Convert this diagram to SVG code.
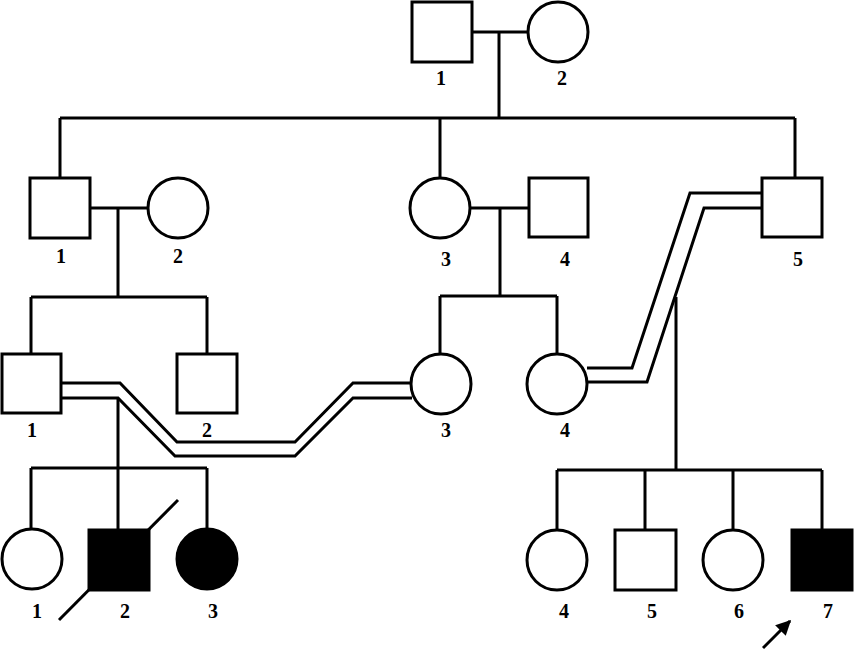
<svg xmlns="http://www.w3.org/2000/svg" width="854" height="650" viewBox="0 0 854 650">
<style>
.s{fill:#fff;stroke:#000;stroke-width:3}
.a{fill:#000;stroke:#000;stroke-width:3}
.l{fill:none;stroke:#000;stroke-width:3;stroke-linejoin:miter}
.t{font-family:"Liberation Serif",serif;font-weight:bold;font-size:20px;text-anchor:middle;fill:#000}
</style>
<defs>
<marker id="ah" viewBox="0 0 10 10" refX="9" refY="5" markerWidth="5" markerHeight="5" orient="auto"><path d="M0,0 L10,5 L0,10 z" fill="#000"/></marker>
</defs>
<rect width="854" height="650" fill="#fff"/>
<g id="connectors" class="l">
<path class="l" d="M472,32 H528 M499,32 V118 M60,118 H795 M60,118 V178 M440,118 V178 M795,118 V178"/>
<path class="l" d="M90,208 H148 M118,208 V297 M31,297 H207 M31,297 V355 M207,297 V355"/>
<path class="l" d="M470,208 H529 M500,208 V296 M440,296 H557 M440,296 V355 M557,296 V355"/>
<path class="l" d="M61,383 H120 L177,442 H295 L353,383 H411"/>
<path class="l" d="M61,398 H118 L175,456 H295 L353,398 H412"/>
<path class="l" d="M587,368 H632 L690,193 H762"/>
<path class="l" d="M588,382 H647 L704,208 H762"/>
<path class="l" d="M118,398 V468 M31,468 H207 M31,468 V530 M118,468 V530 M207,468 V530"/>
<path class="l" d="M676,297 V470 M557,470 H822 M557,470 V530 M645,470 V530 M733,470 V530 M822,470 V530"/>
<path class="l" d="M59,620 L178,500"/>
<path class="l" d="M763,648 L790,621" marker-end="url(#ah)"/>
</g>
<g id="I-1"><rect class="s" x="412" y="2" width="60" height="60"/><text class="t" x="441" y="85">1</text></g>
<g id="I-2"><circle class="s" cx="558" cy="32" r="30"/><text class="t" x="562" y="85">2</text></g>
<g id="II-1"><rect class="s" x="30" y="178" width="60" height="60"/><text class="t" x="61" y="263">1</text></g>
<g id="II-2"><circle class="s" cx="178" cy="208" r="30"/><text class="t" x="178" y="263">2</text></g>
<g id="II-3"><circle class="s" cx="440" cy="208" r="30"/><text class="t" x="446" y="266">3</text></g>
<g id="II-4"><rect class="s" x="529" y="178" width="59" height="59"/><text class="t" x="565" y="266">4</text></g>
<g id="II-5"><rect class="s" x="762" y="178" width="60" height="59"/><text class="t" x="798" y="266">5</text></g>
<g id="III-1"><rect class="s" x="2" y="354" width="59" height="59"/><text class="t" x="32" y="437">1</text></g>
<g id="III-2"><rect class="s" x="177" y="354" width="60" height="59"/><text class="t" x="207" y="437">2</text></g>
<g id="III-3"><circle class="s" cx="441" cy="384" r="30"/><text class="t" x="446" y="437">3</text></g>
<g id="III-4"><circle class="s" cx="557" cy="384" r="30"/><text class="t" x="565" y="437">4</text></g>
<g id="IV-1"><circle class="s" cx="32" cy="559" r="30"/><text class="t" x="37" y="618">1</text></g>
<g id="IV-2"><rect class="a" x="89" y="530" width="60" height="60"/><text class="t" x="125" y="618">2</text></g>
<g id="IV-3"><circle class="a" cx="207" cy="559" r="30"/><text class="t" x="213" y="618">3</text></g>
<g id="IV-4"><circle class="s" cx="557" cy="560" r="30"/><text class="t" x="564" y="618">4</text></g>
<g id="IV-5"><rect class="s" x="615" y="530" width="61" height="60"/><text class="t" x="652" y="618">5</text></g>
<g id="IV-6"><circle class="s" cx="733" cy="560" r="30"/><text class="t" x="739" y="618">6</text></g>
<g id="IV-7"><rect class="a" x="792" y="530" width="60" height="60"/><text class="t" x="828" y="618">7</text></g>
</svg>
